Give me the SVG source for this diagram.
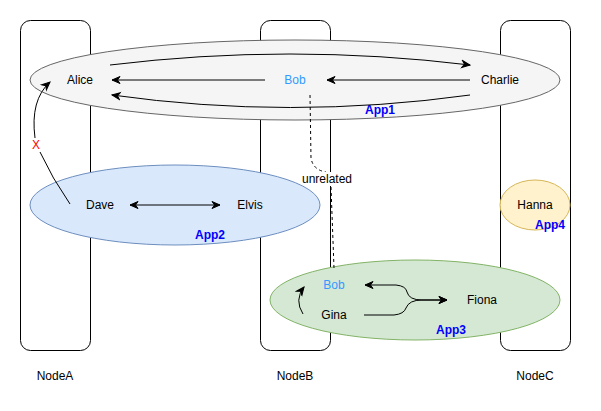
<svg xmlns="http://www.w3.org/2000/svg" width="601" height="411" viewBox="0 0 601 411">
<defs>
<marker id="arr" viewBox="0 0 10 10" refX="9" refY="5" markerWidth="10" markerHeight="10" markerUnits="userSpaceOnUse" orient="auto-start-reverse">
<path d="M1,1.5 L9,5 L1,8.5 L3.5,5 z" fill="#000" stroke="#000" stroke-width="1"/>
</marker>
</defs>
<style>
.host{fill:#fff;stroke:#000;stroke-width:1}
text{font-family:"Liberation Sans",Arial,Helvetica,sans-serif;font-size:12px;fill:#000;text-anchor:middle;dominant-baseline:central}
.app{font-weight:bold;fill:#0000ff}
.blue{fill:#3399ff}
.e{fill:none;stroke:#000;stroke-width:1}
.ea{marker-end:url(#arr)}
.eb{marker-start:url(#arr);marker-end:url(#arr)}
.dash{fill:none;stroke:#000;stroke-width:1;stroke-dasharray:3,3}
</style>
<rect width="601" height="411" fill="#fff"/>
<g id="NodeA"><rect class="host" x="20.5" y="20.5" width="70" height="330" rx="10"/><text x="55" y="376">NodeA</text></g>
<g id="NodeB"><rect class="host" x="260.5" y="20.5" width="70" height="330" rx="10"/><text x="295" y="376">NodeB</text></g>
<g id="NodeC"><rect class="host" x="500.5" y="20.5" width="70" height="330" rx="10"/><text x="535" y="376">NodeC</text></g>
<g id="App1"><ellipse cx="295" cy="80" rx="265" ry="40" fill="#f5f5f5" stroke="#666"/><text class="app" x="380" y="110">App1</text></g>
<g id="App2"><ellipse cx="175" cy="205" rx="145" ry="40" fill="#dae8fc" stroke="#6c8ebf"/><text class="app" x="210" y="235">App2</text></g>
<g id="App3"><ellipse cx="415" cy="300" rx="145" ry="40" fill="#d5e8d4" stroke="#82b366"/><text class="app" x="451" y="330">App3</text></g>
<g id="App4"><ellipse cx="535" cy="205" rx="35" ry="25" fill="#fff2cc" stroke="#d6b656"/><text x="535" y="205">Hanna</text><text class="app" x="550" y="225">App4</text></g>
<g id="Alice"><text x="80" y="80">Alice</text></g>
<g id="Bob1"><text class="blue" x="295" y="80">Bob</text></g>
<g id="Charlie"><text x="500" y="80">Charlie</text></g>
<g id="Dave"><text x="100" y="205">Dave</text></g>
<g id="Elvis"><text x="250" y="205">Elvis</text></g>
<g id="Bob2"><text class="blue" x="334" y="285">Bob</text></g>
<g id="Gina"><text x="334" y="315">Gina</text></g>
<g id="Fiona"><text x="482" y="300">Fiona</text></g>
<g id="connectors">
<path class="e ea" d="M110,65 Q290,43 470,65"/>
<path class="e ea" d="M265,80 L112,80"/>
<path class="e ea" d="M470,80 L327,80"/>
<path class="e ea" d="M470,95 Q290,120 112,95"/>
<path class="e eb" d="M130,205 L220,205"/>
<path class="e" d="M70,204 Q52,178 40,152"/>
<path class="e ea" d="M35,138 Q30,100 50,82"/>
<text x="36" y="145" fill="#ff0000" style="fill:#ff0000">X</text>
<path class="dash" d="M310,95 L311,158 Q313,170 326,172"/>
<rect x="304" y="172" width="47" height="14" fill="#fff"/>
<text x="327" y="179">unrelated</text>
<path class="dash" d="M331,187 L334,268"/>
<path class="e ea" d="M303,314 Q294,300 304,287"/>
<path class="e eb" d="M365,285 L396,285 Q406,286 407,292 Q409,300 422,300 L447,300"/>
<path class="e ea" d="M364,315 L394,315 Q404,314 406,308 Q409,300 422,300 L447,300"/>
</g>
</svg>
